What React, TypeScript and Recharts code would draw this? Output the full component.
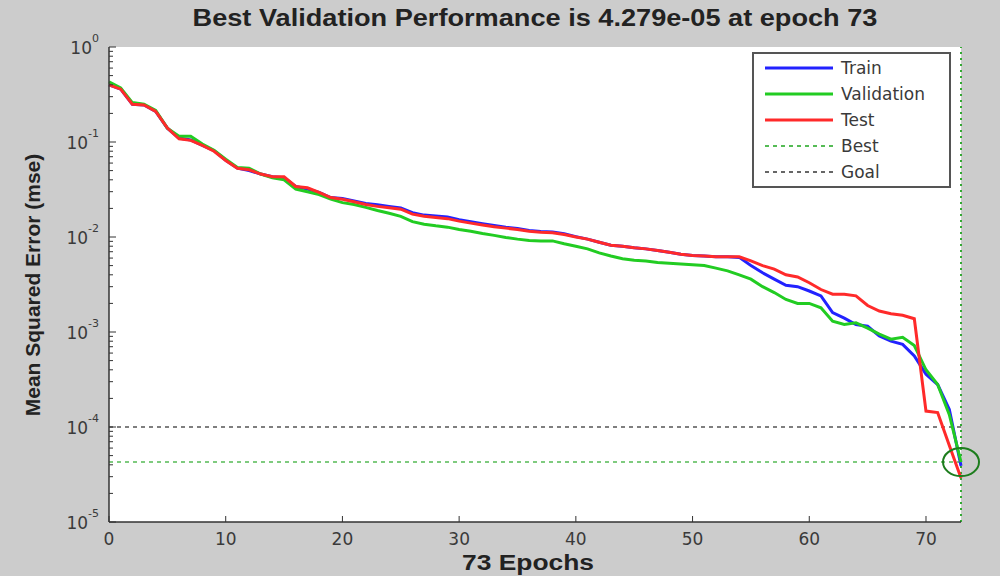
import React from 'react';
import {
  LineChart, Line, XAxis, YAxis, CartesianGrid, ReferenceLine, ReferenceDot, Legend, Label,
} from 'recharts';

// epochs 0..73
const epochs = Array.from({ length: 74 }, (_, i) => i);

const trainMse = [
  0.40, 0.36, 0.25, 0.245, 0.21, 0.14, 0.11, 0.105, 0.092, 0.081,
  0.064, 0.053, 0.050, 0.046, 0.043, 0.042, 0.034, 0.032, 0.0295, 0.026,
  0.0255, 0.024, 0.0225, 0.0218, 0.021, 0.0202, 0.018, 0.017, 0.0166, 0.0162,
  0.0152, 0.0145, 0.0138, 0.0132, 0.0127, 0.0123, 0.0117, 0.0114, 0.0113, 0.0108,
  0.0101, 0.0095, 0.0088, 0.0082, 0.0080, 0.0077, 0.0075, 0.0072, 0.0069, 0.0066,
  0.0064, 0.0063, 0.0062, 0.0062, 0.0061, 0.0050, 0.0042, 0.0036, 0.0031, 0.0030,
  0.0027, 0.0024, 0.0016, 0.0014, 0.0012, 0.00115, 0.00091, 0.00080, 0.00074, 0.00056,
  0.00036, 0.00028, 0.000153, 0.000039,
];

const validationMse = [
  0.43, 0.37, 0.26, 0.25, 0.215, 0.14, 0.115, 0.115, 0.095, 0.082,
  0.066, 0.054, 0.053, 0.046, 0.042, 0.040, 0.032, 0.030, 0.028, 0.025,
  0.023, 0.022, 0.0205, 0.019, 0.0178, 0.0165, 0.0145, 0.0136, 0.0131, 0.0127,
  0.0120, 0.0115, 0.0109, 0.0104, 0.0099, 0.0095, 0.0092, 0.0091, 0.0091, 0.0085,
  0.0080, 0.0075, 0.0068, 0.0063, 0.0059, 0.0057, 0.0056, 0.0054, 0.0053, 0.0052,
  0.0051, 0.0050, 0.0047, 0.0044, 0.0040, 0.0036, 0.0030, 0.0026, 0.0022, 0.0020,
  0.0020, 0.0018, 0.0013, 0.0012, 0.00125, 0.0011, 0.00095, 0.00084, 0.00088, 0.00072,
  0.00040, 0.00028, 0.000135, 0.00004279,
];

const testMse = [
  0.40, 0.36, 0.25, 0.245, 0.21, 0.14, 0.108, 0.104, 0.092, 0.080,
  0.064, 0.053, 0.051, 0.046, 0.043, 0.043, 0.034, 0.033, 0.0295, 0.026,
  0.025, 0.0235, 0.022, 0.021, 0.0203, 0.0196, 0.0174, 0.0165, 0.016, 0.0156,
  0.0147, 0.014, 0.0134, 0.0128, 0.0124, 0.012, 0.0115, 0.0112, 0.0111, 0.0106,
  0.0100, 0.0095, 0.0088, 0.0082, 0.0080, 0.0077, 0.0075, 0.0072, 0.0069, 0.0066,
  0.0064, 0.0063, 0.0062, 0.0062, 0.0062, 0.0056, 0.0050, 0.0046, 0.0040, 0.0038,
  0.0033, 0.0028, 0.0025, 0.0025, 0.0024, 0.0019, 0.00166, 0.00156, 0.0015, 0.00138,
  0.000147, 0.000142, 0.000064, 0.000029,
];

const bestEpoch = 73;
const bestPerf = 4.279e-5;
const goalPerf = 1e-4;

const xTicks = [0, 10, 20, 30, 40, 50, 60, 70];
const yMajor = [1e-5, 1e-4, 1e-3, 1e-2, 1e-1, 1];
const yMinor = yMajor.slice(0, -1).flatMap((m) => [2, 3, 4, 5, 6, 7, 8, 9].map((k) => m * k));

const legendItems = [
  { name: 'Train', color: '#2222ff', dash: undefined },
  { name: 'Validation', color: '#22cc22', dash: undefined },
  { name: 'Test', color: '#ff2a2a', dash: undefined },
  { name: 'Best', color: '#55bb55', dash: '4 4' },
  { name: 'Goal', color: '#666666', dash: '4 4' },
];

const data = epochs.map((e, i) => ({
  epoch: e, train: trainMse[i], validation: validationMse[i], test: testMse[i],
}));

const FONT = '"Liberation Sans", Arial, Helvetica, sans-serif';
const TICK_FONT = '"DejaVu Sans", Verdana, sans-serif';

const YTick = (props: any) => {
  const { x, y, payload } = props;
  const lg = Math.log10(payload.value);
  const exp = Math.round(lg);
  const major = Math.abs(lg - exp) < 1e-6;
  return (
    <g>
      <line x1={x} x2={x + (major ? 7 : 4)} y1={y} y2={y} stroke="#333" strokeWidth={1} />
      {major && (
        <text x={x - 10} y={y + 7} textAnchor="end" fontSize={17} fill="#3a3a3a" fontFamily={TICK_FONT}>
          10<tspan dy={-12} fontSize={11}>{exp}</tspan>
        </text>
      )}
    </g>
  );
};

const XTick = (props: any) => {
  const { x, y, payload } = props;
  return (
    <g>
      <line x1={x} x2={x} y1={y} y2={y - 6} stroke="#333" strokeWidth={1} />
      <text x={x} y={y + 23} textAnchor="middle" fontSize={17} fill="#3a3a3a" fontFamily={TICK_FONT}>
        {payload.value}
      </text>
    </g>
  );
};

const renderLegend = () => (
  <svg width={200} height={137}>
    <rect x={1} y={1} width={197} height={134} fill="#fff" stroke="#555" strokeWidth={2} />
    {legendItems.map((it, i) => (
      <g key={it.name}>
        <line x1={13} x2={81} y1={16 + i * 26} y2={16 + i * 26} stroke={it.color}
          strokeWidth={it.dash ? 2 : 3} strokeDasharray={it.dash} />
        <text x={89} y={22 + i * 26} fontSize={17} fill="#3a3a3a" fontFamily={TICK_FONT}>{it.name}</text>
      </g>
    ))}
  </svg>
);

export default function App() {
  return (
    <div style={{ position: 'absolute', left: 0, top: 0, width: 1000, height: 576, background: '#cccccc', fontFamily: FONT }}>
      <div style={{
        position: 'absolute', top: 5, left: 535, transform: 'translateX(-50%) scaleX(1.18)', whiteSpace: 'nowrap',
        fontWeight: 'bold', fontSize: 23, color: '#222', zIndex: 2,
      }}>
        Best Validation Performance is 4.279e-05 at epoch 73
      </div>
      <LineChart width={1000} height={576} data={data} margin={{ top: 47, right: 39, left: 10, bottom: 0 }}>
        <CartesianGrid fill="#ffffff" stroke="none" horizontal={false} vertical={false} />
        <XAxis dataKey="epoch" type="number" domain={[0, 73]} ticks={xTicks} interval={0} height={54}
          tickSize={0} tickMargin={0} tick={<XTick />} axisLine={{ stroke: '#333', strokeWidth: 1.5 }}>
          <Label content={() => (
            <text x={528} y={570} textAnchor="middle" fontSize={22} fontWeight="bold" fill="#222" fontFamily={FONT}
              transform="translate(528 0) scale(1.2 1) translate(-528 0)">
              73 Epochs
            </text>
          )} />
        </XAxis>
        <YAxis scale="log" domain={[1e-5, 1]} ticks={[...yMajor, ...yMinor]} interval={0} width={99}
          allowDataOverflow tickSize={0} tickMargin={0} tick={<YTick />} axisLine={{ stroke: '#333', strokeWidth: 1.5 }}>
          <Label content={() => (
            <text x={40} y={285} transform="rotate(-90 40 285)" textAnchor="middle" fontSize={21}
              fontWeight="bold" fill="#222" fontFamily={FONT}>
              Mean Squared Error  (mse)
            </text>
          )} />
        </YAxis>
        <ReferenceLine y={goalPerf} stroke="#555" strokeWidth={1.5} strokeDasharray="4 4" />
        <ReferenceLine y={bestPerf} stroke="#55bb55" strokeWidth={1.5} strokeDasharray="4 4" />
        <ReferenceLine x={bestEpoch} stroke="#33aa33" strokeWidth={2} strokeDasharray="2 4" />
        <Line type="linear" dataKey="train" stroke="#2222ff" strokeWidth={3} dot={false} isAnimationActive={false} />
        <Line type="linear" dataKey="validation" stroke="#22cc22" strokeWidth={3} dot={false} isAnimationActive={false} />
        <Line type="linear" dataKey="test" stroke="#ff2a2a" strokeWidth={3} dot={false} isAnimationActive={false} />
        <ReferenceDot x={bestEpoch} y={bestPerf} ifOverflow="visible"
          shape={(p: any) => <ellipse cx={p.cx} cy={p.cy} rx={18} ry={14} fill="none" stroke="#1d7d1d" strokeWidth={2} />} />
        <Legend layout="vertical" align="center" verticalAlign="middle" content={renderLegend}
          wrapperStyle={{ left: 752, top: 52, width: 200, height: 137 }} />
      </LineChart>
    </div>
  );
}
